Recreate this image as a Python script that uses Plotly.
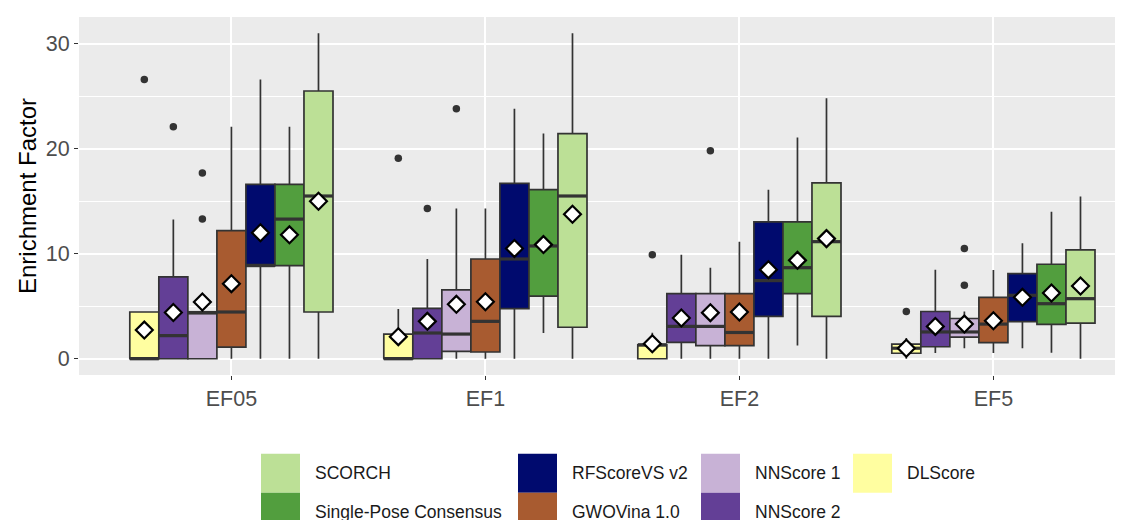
import plotly.graph_objects as go

# ---------------- data ----------------
GROUPS = ["EF05", "EF1", "EF2", "EF5"]
METHODS = ["DLScore", "NNScore 2", "NNScore 1", "GWOVina 1.0",
           "RFScoreVS v2", "Single-Pose Consensus", "SCORCH"]
COLORS = ["#FFFEA0", "#633F96", "#C8B2D6", "#A85B30",
          "#000A6E", "#529E3E", "#BCE096"]

# rows follow METHODS, columns follow GROUPS
LOWER = [[0, 0, 0, 0],
         [0, 0, 0, 0.54],
         [0, 0, 0, 1.0],
         [0, 0, 0, 0.54],
         [0, 0, 0, 1.0],
         [0, 2.45, 1.27, 0.57],
         [0, 0, 0, 0]]
Q1 = [[0, 0, 0, 0.52],
      [0, 0, 1.56, 1.14],
      [0, 0.7, 1.24, 2.05],
      [1.1, 0.64, 1.24, 1.53],
      [8.87, 4.77, 4.04, 3.53],
      [8.87, 5.97, 6.2, 3.27],
      [4.45, 3.0, 4.04, 3.4]]
MEDIAN = [[0, 0, 1.33, 1.0],
          [2.2, 2.45, 3.08, 2.55],
          [4.4, 2.35, 3.08, 2.55],
          [4.45, 3.56, 2.5, 3.3],
          [8.87, 9.5, 7.44, 6.04],
          [13.3, 10.74, 8.67, 5.24],
          [15.5, 15.5, 11.15, 5.72]]
Q3 = [[4.45, 2.35, 1.33, 1.4],
      [7.8, 4.8, 6.2, 4.5],
      [4.4, 6.55, 6.2, 3.83],
      [12.2, 9.5, 6.2, 5.85],
      [16.6, 16.7, 13.03, 8.1],
      [16.6, 16.1, 13.03, 9.0],
      [25.5, 21.45, 16.75, 10.36]]
UPPER = [[4.45, 4.73, 2.48, 1.97],
         [13.25, 9.5, 9.9, 8.47],
         [4.4, 14.3, 8.67, 4.5],
         [22.1, 14.3, 11.15, 8.45],
         [26.6, 23.8, 16.1, 11.0],
         [22.1, 21.45, 21.07, 14.0],
         [31.0, 31.0, 24.8, 15.45]]
MEAN = [[2.73, 2.1, 1.43, 1.0],
        [4.4, 3.56, 3.88, 3.08],
        [5.4, 5.18, 4.39, 3.3],
        [7.15, 5.43, 4.45, 3.62],
        [12.0, 10.5, 8.48, 5.85],
        [11.8, 10.87, 9.37, 6.26],
        [15.0, 13.76, 11.44, 6.93]]
OUTLIERS = [[[26.6], [19.1], [9.9], [4.5]],
            [[22.1], [14.3], [], []],
            [[17.7, 13.3], [23.8], [19.8], [10.5, 7.0]],
            [[], [], [], []],
            [[], [], [], []],
            [[], [], [], []],
            [[], [], [], []]]

LEGEND_COLUMNS = [["SCORCH", "Single-Pose Consensus"],
                  ["RFScoreVS v2", "GWOVina 1.0"],
                  ["NNScore 1", "NNScore 2"],
                  ["DLScore"]]
Y_TITLE = "Enrichment Factor"

# ---------------- layout constants ----------------
W, H = 1123, 520
ML, MR, MT, MB = 71, 0, 9, 153
PW, PH = W - ML - MR, H - MT - MB
UNIT_PX = 254          # pixels per category step on the x axis
X_LO = 0.4
X_HI = X_LO + PW / UNIT_PX
DODGE = 0.8
N = len(METHODS)
BW = DODGE / N
FONT = "Liberation Sans, Arial, Helvetica, sans-serif"
EDGE = "#333333"

fig = go.Figure()

for j, m in enumerate(METHODS):
    xs = [g + 1 + (j - (N - 1) / 2) * BW for g in range(len(GROUPS))]
    fig.add_trace(go.Box(
        x=xs, q1=Q1[j], median=MEDIAN[j], q3=Q3[j],
        lowerfence=LOWER[j], upperfence=UPPER[j],
        width=BW, fillcolor=COLORS[j],
        line=dict(color=EDGE, width=1.7), whiskerwidth=0,
        boxpoints=False, name=m, showlegend=False, hoverinfo="skip"))
    # thicker median line
    mx, my = [], []
    for x, md in zip(xs, MEDIAN[j]):
        mx += [x - BW / 2, x + BW / 2, None]
        my += [md, md, None]
    fig.add_trace(go.Scatter(x=mx, y=my, mode="lines",
                             line=dict(color="#333333", width=3.2),
                             showlegend=False, hoverinfo="skip"))
    # outliers
    ox, oy = [], []
    for x, outs in zip(xs, OUTLIERS[j]):
        for v in outs:
            ox.append(x)
            oy.append(v)
    if ox:
        fig.add_trace(go.Scatter(x=ox, y=oy, mode="markers",
                                 marker=dict(color="#333333", size=7.5),
                                 showlegend=False, hoverinfo="skip"))

# means drawn on top
for j, m in enumerate(METHODS):
    xs = [g + 1 + (j - (N - 1) / 2) * BW for g in range(len(GROUPS))]
    fig.add_trace(go.Scatter(x=xs, y=MEAN[j], mode="markers",
                             marker=dict(symbol="diamond", size=13, color="white",
                                         line=dict(color="black", width=2.2)),
                             showlegend=False, hoverinfo="skip"))

# ---------------- manual legend ----------------
color_of = dict(zip(METHODS, COLORS))
COL_X = [253, 510, 693, 845]
ROW_TOP = [445.7, 484.7]
KEY = 39


def px_x(px):
    return (px - ML) / PW


def px_y(py):
    return (MT + PH - py) / PH


shapes = []
annotations = []
for c, col in enumerate(LEGEND_COLUMNS):
    for r, lab in enumerate(col):
        x0, y0 = COL_X[c], ROW_TOP[r]
        shapes.append(dict(type="rect", xref="paper", yref="paper",
                           x0=px_x(x0), x1=px_x(x0 + KEY),
                           y0=px_y(y0 + KEY), y1=px_y(y0),
                           fillcolor=color_of[lab], line=dict(width=0)))
        annotations.append(dict(xref="paper", yref="paper",
                                x=px_x(x0 + 52), y=px_y(y0 + KEY / 2),
                                xanchor="left", yanchor="middle",
                                text=lab, showarrow=False,
                                font=dict(family=FONT, size=17.5, color="#1a1a1a")))

# y-axis title
annotations.append(dict(xref="paper", yref="paper",
                        x=px_x(19), y=0.5, xanchor="center", yanchor="middle",
                        text=Y_TITLE, textangle=-90, showarrow=False,
                        font=dict(family=FONT, size=24, color="black")))

fig.update_layout(
    width=W, height=H,
    margin=dict(l=ML, r=MR, t=MT, b=MB, autoexpand=False),
    paper_bgcolor="white", plot_bgcolor="#EBEBEB",
    font=dict(family=FONT),
    showlegend=False,
    shapes=shapes, annotations=annotations,
    xaxis=dict(range=[X_LO, X_HI],
               tickmode="array", tickvals=[1, 2, 3, 4], ticktext=GROUPS,
               showgrid=True, gridcolor="white", gridwidth=2,
               ticks="outside", ticklen=4, tickwidth=1.3, tickcolor="#333333",
               tickfont=dict(size=21.5, color="#4d4d4d", family=FONT),
               zeroline=False, showline=False),
    yaxis=dict(range=[-1.55, 32.55],
               tickmode="array", tickvals=[0, 10, 20, 30],
               showgrid=True, gridcolor="white", gridwidth=2,
               minor=dict(tickmode="array", tickvals=[5, 15, 25], showgrid=True,
                          gridcolor="white", gridwidth=1, ticks=""),
               ticks="outside", ticklen=4, tickwidth=1.3, tickcolor="#333333",
               tickfont=dict(size=21.5, color="#4d4d4d", family=FONT),
               zeroline=False, showline=False),
)

fig.write_html("out.html")
